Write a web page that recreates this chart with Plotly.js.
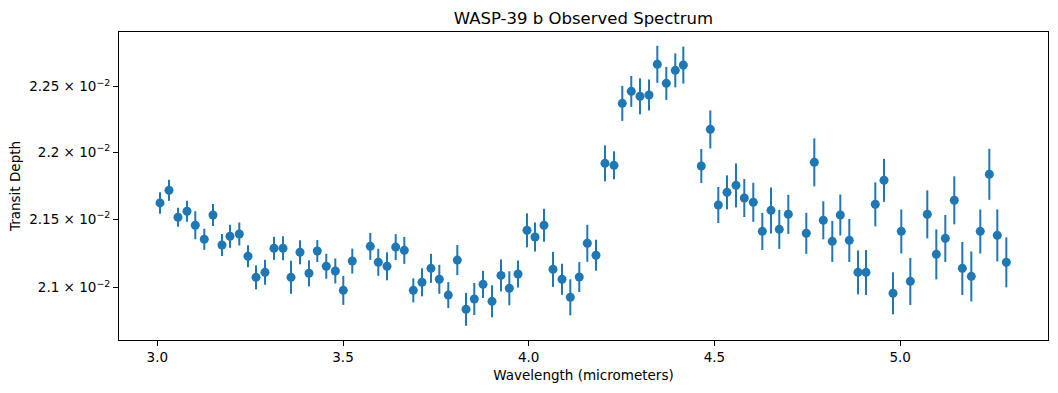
<!DOCTYPE html>
<html>
<head>
<meta charset="utf-8">
<script src="https://cdn.plot.ly/plotly-3.0.1.min.js"></script>
<style>
  html, body { margin: 0; padding: 0; background: #ffffff; }
  #chart { width: 1058px; height: 393px; }
</style>
</head>
<body>
<div id="chart"></div>
<script>
// Wavelength (micrometers)
const wavelength = [
  3.0073, 3.0315, 3.0557, 3.0800, 3.1023, 3.1265, 3.1500, 3.1742, 3.1957, 3.2208,
  3.2442, 3.2658, 3.2900, 3.3142, 3.3385, 3.3600, 3.3842, 3.4085, 3.4308, 3.4550,
  3.4793, 3.5008, 3.5250, 3.5735, 3.5950, 3.6185, 3.6419, 3.6651, 3.6893, 3.7127,
  3.7369, 3.7593, 3.7835, 3.8078, 3.8312, 3.8535, 3.8770, 3.9012, 3.9254, 3.9478,
  3.9712, 3.9954, 4.0170, 4.0412, 4.0654, 4.0897, 4.1120, 4.1362, 4.1578, 4.1812,
  4.2054, 4.2297, 4.2520, 4.2762, 4.2997, 4.3239, 4.3463, 4.3705, 4.3947, 4.4163,
  4.4647, 4.4890, 4.5105, 4.5339, 4.5582, 4.5805, 4.6047, 4.6290, 4.6524, 4.6747,
  4.6990, 4.7474, 4.7690, 4.7932, 4.8174, 4.8390, 4.8632, 4.8866, 4.9082, 4.9332,
  4.9566, 4.9809, 5.0032, 5.0275, 5.0732, 5.0975, 5.1217, 5.1459, 5.1675, 5.1917,
  5.2159, 5.2402, 5.2617, 5.2860
];

// Transit depth
const transitDepth = [
  0.021620, 0.021714, 0.021514, 0.021558, 0.021455, 0.021352, 0.021531, 0.021310, 0.021374, 0.021391,
  0.021228, 0.021075, 0.021111, 0.021286, 0.021286, 0.021075, 0.021257, 0.021104, 0.021266, 0.021155,
  0.021121, 0.020981, 0.021193, 0.021300, 0.021184, 0.021155, 0.021295, 0.021271, 0.020981, 0.021039,
  0.021140, 0.021061, 0.020947, 0.021200, 0.020845, 0.020919, 0.021024, 0.020902, 0.021089, 0.020996,
  0.021099, 0.021418, 0.021369, 0.021455, 0.021133, 0.021061, 0.020931, 0.021077, 0.021323, 0.021235,
  0.021916, 0.021901, 0.022372, 0.022464, 0.022426, 0.022436, 0.022674, 0.022526, 0.022627, 0.022668,
  0.021896, 0.022173, 0.021605, 0.021699, 0.021751, 0.021657, 0.021625, 0.021410, 0.021565, 0.021425,
  0.021536, 0.021396, 0.021924, 0.021492, 0.021337, 0.021531, 0.021344, 0.021111, 0.021111, 0.021610,
  0.021789, 0.020960, 0.021410, 0.021046, 0.021536, 0.021242, 0.021359, 0.021640, 0.021140, 0.021082,
  0.021410, 0.021834, 0.021381, 0.021184
];

// Transit depth uncertainty
const depthError = [
  0.0000794, 0.0000783, 0.0000701, 0.0000777, 0.0001031, 0.0000770, 0.0000813, 0.0000805, 0.0000844, 0.0000844,
  0.0000802, 0.0000868, 0.0000906, 0.0000840, 0.0000877, 0.0001194, 0.0000876, 0.0000942, 0.0000803, 0.0000908,
  0.0000906, 0.0001044, 0.0000909, 0.0000987, 0.0000981, 0.0001017, 0.0000950, 0.0000986, 0.0000864, 0.0001011,
  0.0001052, 0.0001048, 0.0000935, 0.0001092, 0.0001181, 0.0001149, 0.0000974, 0.0001148, 0.0001158, 0.0001225,
  0.0000978, 0.0001250, 0.0001064, 0.0001215, 0.0001269, 0.0001121, 0.0001293, 0.0001085, 0.0001354, 0.0001130,
  0.0001354, 0.0001052, 0.0001344, 0.0001195, 0.0001386, 0.0001194, 0.0001440, 0.0001276, 0.0001321, 0.0001440,
  0.0001278, 0.0001446, 0.0001335, 0.0001266, 0.0001643, 0.0001412, 0.0001448, 0.0001360, 0.0001703, 0.0001434,
  0.0001442, 0.0001506, 0.0001806, 0.0001402, 0.0001502, 0.0001515, 0.0001575, 0.0001594, 0.0001630, 0.0001632,
  0.0001608, 0.0001511, 0.0001617, 0.0001698, 0.0001774, 0.0001823, 0.0001723, 0.0001783, 0.0001923, 0.0001809,
  0.0001617, 0.0001911, 0.0001908, 0.0001818
];

// Axis ticks
const xTickVals = [3.0, 3.5, 4.0, 4.5, 5.0];
const xTickText = ['3.0', '3.5', '4.0', '4.5', '5.0'];
const yTickVals = [0.021, 0.0215, 0.022, 0.0225];
const yTickText = ['2.1 × 10<sup>−2</sup>', '2.15 × 10<sup>−2</sup>', '2.2 × 10<sup>−2</sup>', '2.25 × 10<sup>−2</sup>'];

const trace = {
  type: 'scatter',
  mode: 'markers',
  x: wavelength,
  y: transitDepth,
  error_y: {
    type: 'data',
    array: depthError,
    visible: true,
    color: '#1f77b4',
    thickness: 2,
    width: 0
  },
  marker: { color: '#1f77b4', size: 9, line: { width: 0 } },
  hoverinfo: 'x+y'
};

const axisFont = { family: 'DejaVu Sans, sans-serif', size: 13.5, color: '#000000' };

const layout = {
  width: 1058,
  height: 393,
  margin: { l: 119, r: 10, t: 32, b: 53, pad: 0 },
  paper_bgcolor: '#ffffff',
  plot_bgcolor: '#ffffff',
  showlegend: false,
  font: axisFont,
  title: {
    text: 'WASP-39 b Observed Spectrum',
    font: { family: 'DejaVu Sans, sans-serif', size: 16.5, color: '#000000' },
    x: 0.5, xref: 'paper', xanchor: 'center',
    y: 1 - 18 / 393, yref: 'container', yanchor: 'middle'
  },
  xaxis: {
    range: [2.8969, 5.3982],
    tickmode: 'array',
    tickvals: xTickVals,
    ticktext: xTickText,
    ticks: 'outside',
    ticklen: 5,
    tickwidth: 1,
    tickcolor: '#000000',
    showgrid: false,
    zeroline: false,
    showline: true,
    linecolor: '#000000',
    linewidth: 1,
    mirror: true,
    tickfont: axisFont,
    title: { text: 'Wavelength (micrometers)', font: axisFont, standoff: 6 }
  },
  yaxis: {
    type: 'log',
    range: [-1.685578, -1.639662],
    tickmode: 'array',
    tickvals: yTickVals,
    ticktext: yTickText,
    ticks: 'outside',
    ticklen: 5,
    tickwidth: 1,
    tickcolor: '#000000',
    showgrid: false,
    zeroline: false,
    showline: true,
    linecolor: '#000000',
    linewidth: 1,
    mirror: true,
    tickfont: axisFont,
    title: { text: 'Transit Depth', font: axisFont, standoff: 5 }
  }
};

Plotly.newPlot('chart', [trace], layout, { staticPlot: true, displayModeBar: false });
</script>
</body>
</html>
